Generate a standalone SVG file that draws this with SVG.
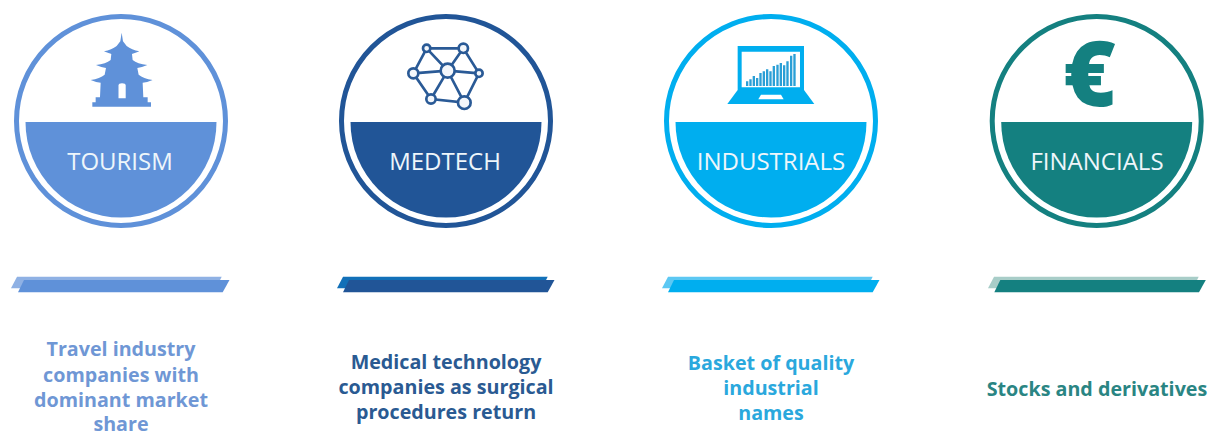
<svg xmlns="http://www.w3.org/2000/svg" width="1209" height="432" viewBox="0 0 1209 432">
<style>
.ring{fill:#fff;stroke-width:5}
.lab{font-family:"Open Sans","Liberation Sans",sans-serif;font-size:24px;fill:#eef6fb;text-anchor:middle}
.cap{font-family:"Open Sans","Liberation Sans",sans-serif;font-size:19.700px;font-weight:700;text-anchor:middle}
</style>
<defs>
<path id="seg" d="M-95.500 1H95.500A95.500 95.500 0 0 1-95.500 1Z"/>
<path id="barB" d="M6 0H210.700L205 11.500H0Z"/>
<path id="barF" d="M6 0H211.500L204.700 12.300H0Z"/>
</defs>
<rect width="1209" height="432" fill="#fff"/>
<g id="tourism" fill="#5f91d9">
<circle class="ring" cx="121" cy="121" r="104.500" stroke="#5f91d9"/>
<use href="#seg" x="121" y="121"/>
<path transform="scale(.3333)" d="M365 98L369 124L380 138Q395 150 418 154Q402 160 396 162L398 180Q412 192 442 195Q425 202 412 204L416 224Q430 236 458 240Q440 248 428 248L430 292L443 292L443 307L453 307L453 320H277V307L287 307L287 292L300 292L302 248Q290 248 272 240Q300 236 314 224L318 204Q305 202 288 195Q318 192 332 180L334 162Q328 160 312 154Q335 150 350 138L361 124Z"/>
<path fill="#fff" d="M118.500 98.300V85.500Q118.500 83.300 122 83.300Q125.700 83.300 125.700 85.500V98.300Z"/>
<text class="lab" x="120" y="170">TOURISM</text>
</g>
<g id="medtech" fill="#215597">
<circle class="ring" cx="446" cy="121" r="104.500" stroke="#215597"/>
<use href="#seg" x="446" y="121"/>
<g transform="translate(330 0) scale(.3333)" stroke="#2a5a96" stroke-width="8" fill="#f4f7fb">
<path fill="none" d="M290 145H400L447 220L403 308L303 297L250 220ZM290 145L353 212L400 145M250 220L353 212L447 220M303 297L353 212L403 308"/>
<circle cx="290" cy="145" r="11"/><circle cx="400" cy="145" r="14"/><circle cx="250" cy="220" r="15"/><circle cx="353" cy="212" r="21"/><circle cx="447" cy="220" r="11"/><circle cx="303" cy="297" r="14"/><circle cx="403" cy="308" r="19"/>
</g>
<text class="lab" x="445" y="170">MEDTECH</text>
</g>
<g id="industrials" fill="#00aeef">
<circle class="ring" cx="771" cy="121" r="104.500" stroke="#00aeef"/>
<use href="#seg" x="771" y="121"/>
<g transform="translate(655 0) scale(.3333)">
<path fill-rule="evenodd" d="M248 138H447V270H248ZM260 155V262H435V155Z"/>
<path d="M248 270H447L478 312H217Z"/>
<path fill="#fff" d="M318 284H378L386 298H310Z"/>
<path fill="#2a9fd6" d="M273 244h7v14h-7zM283 238h7v20h-7zM293 228h7v30h-7zM303 234h7v24h-7zM313 219h7v39h-7zM323 214h7v44h-7zM333 208h7v50h-7zM343 214h7v44h-7zM353 198h7v60h-7zM364 194h7v64h-7zM374 189h7v69h-7zM384 196h7v62h-7zM394 184h7v74h-7zM405 167h7v91h-7zM415 162h7v96h-7z"/>
</g>
<text class="lab" x="771" y="170">INDUSTRIALS</text>
</g>
<g id="financials" fill="#148080">
<circle class="ring" cx="1096.700" cy="121" r="104.500" stroke="#148080"/>
<use href="#seg" x="1096.700" y="121"/>
<text x="1089.500" y="106" font-family="'Open Sans','DejaVu Sans',sans-serif" font-weight="800" font-size="90" text-anchor="middle">€</text>
<text class="lab" x="1097" y="170">FINANCIALS</text>
</g>
<g id="bars">
<use href="#barB" x="11" y="276.700" fill="#8fb1e4"/><use href="#barF" x="18" y="280" fill="#5f91d9"/>
<use href="#barB" x="337" y="276.700" fill="#1270b8"/><use href="#barF" x="343" y="280" fill="#215597"/>
<use href="#barB" x="662" y="276.700" fill="#5cc8f3"/><use href="#barF" x="668" y="280" fill="#00aeef"/>
<use href="#barB" x="988" y="276.700" fill="#a8cdc8"/><use href="#barF" x="994.300" y="280" fill="#148080"/>
</g>
<g id="captions">
<g class="cap" fill="#6f97d5"><text x="121" y="356">Travel industry</text><text x="121" y="382">companies with</text><text x="121" y="407">dominant market</text><text x="121" y="431">share</text></g>
<g class="cap" fill="#2a5a92"><text x="446" y="369">Medical technology</text><text x="446" y="394">companies as surgical</text><text x="446" y="419">procedures return</text></g>
<g class="cap" fill="#2aa8dd"><text x="771" y="370">Basket of quality</text><text x="771" y="395">industrial</text><text x="771" y="420">names</text></g>
<g class="cap" fill="#2a8583"><text x="1097" y="396">Stocks and derivatives</text></g>
</g>
</svg>
